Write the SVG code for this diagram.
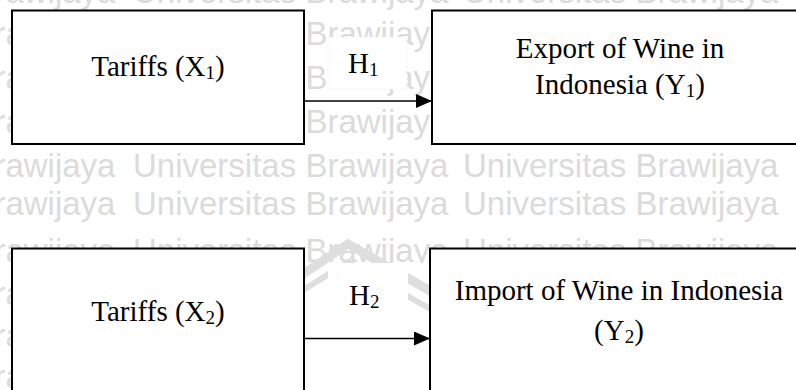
<svg xmlns="http://www.w3.org/2000/svg" width="796" height="390" viewBox="0 0 796 390">
<defs>
<style>
.wm{font-family:"Liberation Sans",Arial,sans-serif;font-size:33px;fill:#dbdbdb}
.box{fill:#fff;stroke:#000;stroke-width:2}
.t{font-family:"Liberation Serif","Times New Roman",serif;font-size:29px;fill:#000}
.sub{font-size:19px}
.conn{stroke:#000;stroke-width:1.3;fill:none}
.lbl{fill:#fff}
.roof{fill:none;stroke:#dedede;stroke-linejoin:miter}
</style>
<marker id="ah" markerUnits="userSpaceOnUse" markerWidth="16" markerHeight="14" refX="16" refY="7" orient="auto">
<path d="M0,0 L16,7 L0,14 Z" fill="#000"/>
</marker>
</defs>
<rect width="796" height="390" fill="#fff"/>
<g id="watermark">
<g class="wm">
<text x="-200" y="3">Universitas Brawijaya</text><text x="133" y="3">Universitas Brawijaya</text><text x="463" y="3">Universitas Brawijaya</text>
<text x="-200" y="45">Universitas Brawijaya</text><text x="133" y="45">Universitas Brawijaya</text><text x="463" y="45">Universitas Brawijaya</text>
<text x="-200" y="89">Universitas Brawijaya</text><text x="133" y="89">Universitas Brawijaya</text><text x="463" y="89">Universitas Brawijaya</text>
<text x="-200" y="133">Universitas Brawijaya</text><text x="133" y="133">Universitas Brawijaya</text><text x="463" y="133">Universitas Brawijaya</text>
<text x="-200" y="177">Universitas Brawijaya</text><text x="133" y="177">Universitas Brawijaya</text><text x="463" y="177">Universitas Brawijaya</text>
<text x="-200" y="215">Universitas Brawijaya</text><text x="133" y="215">Universitas Brawijaya</text><text x="463" y="215">Universitas Brawijaya</text>
<text x="-200" y="262">Universitas Brawijaya</text><text x="133" y="262">Universitas Brawijaya</text><text x="463" y="262">Universitas Brawijaya</text>
<text x="-200" y="305">Universitas Brawijaya</text><text x="133" y="305">Universitas Brawijaya</text><text x="463" y="305">Universitas Brawijaya</text>
<text x="-200" y="347">Universitas Brawijaya</text><text x="133" y="347">Universitas Brawijaya</text><text x="463" y="347">Universitas Brawijaya</text>
<text x="-200" y="388">Universitas Brawijaya</text><text x="133" y="388">Universitas Brawijaya</text><text x="463" y="388">Universitas Brawijaya</text>
</g>
<rect x="304" y="263" width="126" height="127" fill="#fff"/>
<polyline class="roof" stroke-width="9" points="300,276 348,244 432,292"/>
<polyline class="roof" stroke-width="6" points="300,292 348,262 432,310"/>
</g>
<g id="node-x1">
<rect class="box" x="12" y="10.5" width="292" height="133.5"/>
<text class="t" x="158" y="76" text-anchor="middle">Tariffs (X<tspan class="sub" dy="3">1</tspan><tspan dy="-3">)</tspan></text>
</g>
<g id="node-y1">
<rect class="box" x="432" y="10.5" width="400" height="133.5"/>
<text class="t" x="620" y="58" text-anchor="middle">Export of Wine in</text>
<text class="t" x="620" y="94" text-anchor="middle">Indonesia (Y<tspan class="sub" dy="3">1</tspan><tspan dy="-3">)</tspan></text>
</g>
<g id="node-x2">
<rect class="box" x="12" y="248.5" width="292" height="160"/>
<text class="t" x="158" y="321" text-anchor="middle">Tariffs (X<tspan class="sub" dy="3">2</tspan><tspan dy="-3">)</tspan></text>
</g>
<g id="node-y2">
<rect class="box" x="430" y="248.5" width="400" height="160"/>
<text class="t" x="619" y="300" text-anchor="middle">Import of Wine in Indonesia</text>
<text class="t" x="619" y="340" text-anchor="middle">(Y<tspan class="sub" dy="3">2</tspan><tspan dy="-3">)</tspan></text>
</g>
<g id="connectors">
<rect class="lbl" x="328" y="37" width="79" height="52" stroke="#ececec" stroke-width="0.8" stroke-dasharray="2 2"/>
<rect class="lbl" x="328" y="263" width="80" height="66"/>
<line class="conn" x1="305" y1="101" x2="432" y2="101" marker-end="url(#ah)"/>
<line class="conn" x1="305" y1="338.5" x2="430" y2="338.5" marker-end="url(#ah)"/>
<text class="t" x="348" y="73">H<tspan class="sub" dy="3">1</tspan></text>
<text class="t" x="349" y="305">H<tspan class="sub" dy="3">2</tspan></text>
</g>
</svg>
